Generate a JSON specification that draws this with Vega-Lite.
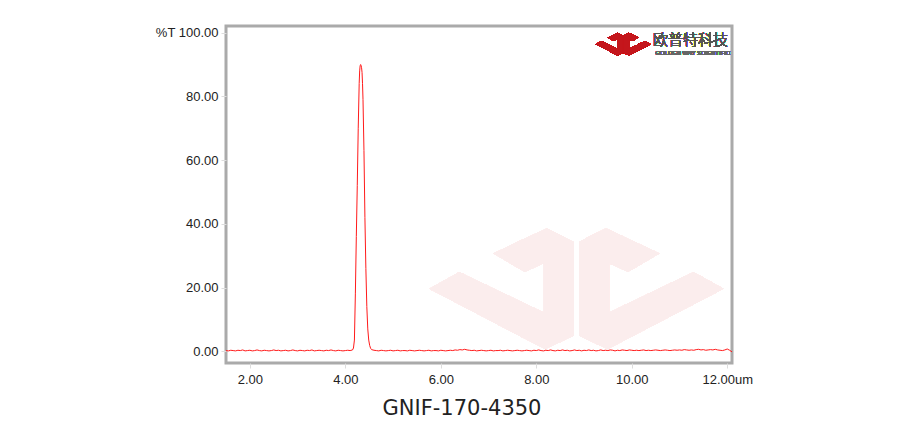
{
  "$schema": "https://vega.github.io/schema/vega-lite/v6.json",
  "autosize": {"type": "none"},
  "width": 506,
  "height": 337,
  "padding": {"left": 226, "top": 26, "right": 192, "bottom": 77},
  "background": "white",
  "config": {
    "view": {"stroke": "#aaaaaa", "strokeWidth": 3},
    "font": "Liberation Sans",
    "axis": {
      "domain": false,
      "gridColor": "#e6e6e6",
      "gridWidth": 1.5,
      "tickColor": "#dddddd",
      "tickSize": 5,
      "labelFont": "Liberation Sans",
      "labelFontSize": 13,
      "labelColor": "#222222",
      "title": null
    }
  },
  "title": {
    "text": "GNIF-170-4350",
    "orient": "bottom",
    "anchor": "middle",
    "dx": -17,
    "offset": 12,
    "font": "DejaVu Sans",
    "fontSize": 21,
    "fontWeight": "normal",
    "color": "#222222"
  },
  "data": {
    "values": [
      {"w":1.50,"t":0.2},{"w":1.55,"t":0.1},{"w":1.60,"t":0.3},{"w":1.65,"t":0.2},{"w":1.70,"t":0.1},{"w":1.75,"t":0.3},{"w":1.80,"t":0.2},{"w":1.85,"t":0.4},{"w":1.90,"t":0.1},{"w":1.95,"t":0.2},
      {"w":2.00,"t":0.3},{"w":2.05,"t":0.1},{"w":2.10,"t":0.2},{"w":2.15,"t":0.4},{"w":2.20,"t":0.2},{"w":2.25,"t":0.1},{"w":2.30,"t":0.3},{"w":2.35,"t":0.2},{"w":2.40,"t":0.1},{"w":2.45,"t":0.2},
      {"w":2.50,"t":0.4},{"w":2.55,"t":0.2},{"w":2.60,"t":0.3},{"w":2.65,"t":0.1},{"w":2.70,"t":0.2},{"w":2.75,"t":0.3},{"w":2.80,"t":0.1},{"w":2.85,"t":0.2},{"w":2.90,"t":0.4},{"w":2.95,"t":0.2},
      {"w":3.00,"t":0.1},{"w":3.05,"t":0.3},{"w":3.10,"t":0.2},{"w":3.15,"t":0.1},{"w":3.20,"t":0.3},{"w":3.25,"t":0.2},{"w":3.30,"t":0.4},{"w":3.35,"t":0.1},{"w":3.40,"t":0.2},{"w":3.45,"t":0.3},
      {"w":3.50,"t":0.2},{"w":3.55,"t":0.1},{"w":3.60,"t":0.3},{"w":3.65,"t":0.2},{"w":3.70,"t":0.4},{"w":3.75,"t":0.2},{"w":3.80,"t":0.1},{"w":3.85,"t":0.3},{"w":3.90,"t":0.2},{"w":3.95,"t":0.1},
      {"w":4.00,"t":0.2},{"w":4.05,"t":0.3},{"w":4.10,"t":0.2},{"w":4.15,"t":0.4},
      {"w":4.17,"t":1.0},{"w":4.19,"t":3.5},{"w":4.21,"t":18},{"w":4.23,"t":36},{"w":4.25,"t":52},{"w":4.27,"t":70},{"w":4.29,"t":84},{"w":4.30,"t":88},{"w":4.31,"t":89.6},{"w":4.32,"t":90},
      {"w":4.33,"t":89.7},{"w":4.34,"t":89},{"w":4.35,"t":87.5},{"w":4.36,"t":84},{"w":4.37,"t":79},{"w":4.39,"t":63},{"w":4.41,"t":42},{"w":4.43,"t":26},{"w":4.45,"t":14},{"w":4.47,"t":7},
      {"w":4.49,"t":3.5},{"w":4.51,"t":1.8},{"w":4.53,"t":0.9},{"w":4.55,"t":0.5},{"w":4.60,"t":0.3},
      {"w":4.65,"t":0.2},{"w":4.70,"t":0.1},{"w":4.75,"t":0.3},{"w":4.80,"t":0.2},{"w":4.85,"t":0.1},{"w":4.90,"t":0.2},{"w":4.95,"t":0.3},
      {"w":5.00,"t":0.1},{"w":5.05,"t":0.2},{"w":5.10,"t":0.3},{"w":5.15,"t":0.1},{"w":5.20,"t":0.2},{"w":5.25,"t":0.2},{"w":5.30,"t":0.1},{"w":5.35,"t":0.3},{"w":5.40,"t":0.2},{"w":5.45,"t":0.1},
      {"w":5.50,"t":0.2},{"w":5.55,"t":0.3},{"w":5.60,"t":0.2},{"w":5.65,"t":0.1},{"w":5.70,"t":0.2},{"w":5.75,"t":0.3},{"w":5.80,"t":0.1},{"w":5.85,"t":0.2},{"w":5.90,"t":0.2},{"w":5.95,"t":0.1},
      {"w":6.00,"t":0.3},{"w":6.05,"t":0.2},{"w":6.10,"t":0.1},{"w":6.15,"t":0.2},{"w":6.20,"t":0.3},{"w":6.25,"t":0.2},{"w":6.30,"t":0.4},{"w":6.35,"t":0.3},{"w":6.40,"t":0.5},{"w":6.45,"t":0.4},
      {"w":6.50,"t":0.6},{"w":6.55,"t":0.4},{"w":6.60,"t":0.3},{"w":6.65,"t":0.2},{"w":6.70,"t":0.3},{"w":6.75,"t":0.1},{"w":6.80,"t":0.2},{"w":6.85,"t":0.3},{"w":6.90,"t":0.2},{"w":6.95,"t":0.1},
      {"w":7.00,"t":0.2},{"w":7.05,"t":0.3},{"w":7.10,"t":0.1},{"w":7.15,"t":0.2},{"w":7.20,"t":0.2},{"w":7.25,"t":0.3},{"w":7.30,"t":0.1},{"w":7.35,"t":0.2},{"w":7.40,"t":0.3},{"w":7.45,"t":0.2},
      {"w":7.50,"t":0.1},{"w":7.55,"t":0.2},{"w":7.60,"t":0.3},{"w":7.65,"t":0.2},{"w":7.70,"t":0.1},{"w":7.75,"t":0.2},{"w":7.80,"t":0.3},{"w":7.85,"t":0.2},{"w":7.90,"t":0.1},{"w":7.95,"t":0.3},
      {"w":8.00,"t":0.2},{"w":8.05,"t":0.4},{"w":8.10,"t":0.2},{"w":8.15,"t":0.1},{"w":8.20,"t":0.3},{"w":8.25,"t":0.2},{"w":8.30,"t":0.4},{"w":8.35,"t":0.2},{"w":8.40,"t":0.1},{"w":8.45,"t":0.3},
      {"w":8.50,"t":0.2},{"w":8.55,"t":0.4},{"w":8.60,"t":0.2},{"w":8.65,"t":0.3},{"w":8.70,"t":0.1},{"w":8.75,"t":0.2},{"w":8.80,"t":0.4},{"w":8.85,"t":0.2},{"w":8.90,"t":0.3},{"w":8.95,"t":0.1},
      {"w":9.00,"t":0.3},{"w":9.05,"t":0.2},{"w":9.10,"t":0.4},{"w":9.15,"t":0.2},{"w":9.20,"t":0.3},{"w":9.25,"t":0.1},{"w":9.30,"t":0.2},{"w":9.35,"t":0.4},{"w":9.40,"t":0.2},{"w":9.45,"t":0.3},
      {"w":9.50,"t":0.2},{"w":9.55,"t":0.4},{"w":9.60,"t":0.3},{"w":9.65,"t":0.1},{"w":9.70,"t":0.3},{"w":9.75,"t":0.2},{"w":9.80,"t":0.4},{"w":9.85,"t":0.3},{"w":9.90,"t":0.2},{"w":9.95,"t":0.4},
      {"w":10.00,"t":0.3},{"w":10.05,"t":0.2},{"w":10.10,"t":0.3},{"w":10.15,"t":0.2},{"w":10.20,"t":0.3},{"w":10.25,"t":0.4},{"w":10.30,"t":0.2},{"w":10.35,"t":0.3},{"w":10.40,"t":0.2},{"w":10.45,"t":0.3},
      {"w":10.50,"t":0.4},{"w":10.55,"t":0.3},{"w":10.60,"t":0.2},{"w":10.65,"t":0.3},{"w":10.70,"t":0.4},{"w":10.75,"t":0.3},{"w":10.80,"t":0.2},{"w":10.85,"t":0.3},{"w":10.90,"t":0.4},{"w":10.95,"t":0.3},
      {"w":11.00,"t":0.4},{"w":11.05,"t":0.3},{"w":11.10,"t":0.5},{"w":11.15,"t":0.4},{"w":11.20,"t":0.3},{"w":11.25,"t":0.4},{"w":11.30,"t":0.3},{"w":11.35,"t":0.5},{"w":11.40,"t":0.6},{"w":11.45,"t":0.4},
      {"w":11.50,"t":0.5},{"w":11.55,"t":0.3},{"w":11.60,"t":0.4},{"w":11.65,"t":0.5},{"w":11.70,"t":0.4},{"w":11.75,"t":0.6},{"w":11.80,"t":0.4},{"w":11.85,"t":0.3},{"w":11.90,"t":0.2},{"w":11.95,"t":0.4},
      {"w":12.00,"t":0.7},{"w":12.05,"t":0.3},{"w":12.10,"t":-0.2}
    ]
  },
  "layer": [
    {
      "mark": {
        "type": "point",
        "shape": "M-0.995,0L-0.791,-0.114L-0.223,0.159L-0.223,-0.17L-0.348,-0.114L-0.564,-0.239L-0.2,-0.409L-0.018,-0.318L-0.018,0.318L-0.211,0.409ZM0.995,0L0.791,-0.114L0.223,0.159L0.223,-0.17L0.348,-0.114L0.564,-0.239L0.2,-0.409L0.018,-0.318L0.018,0.318L0.211,0.409Z",
        "size": 87616,
        "filled": true,
        "color": "#fbeded",
        "opacity": 1,
        "strokeWidth": 0
      },
      "encoding": {
        "x": {"datum": 8.84, "type": "quantitative"},
        "y": {"datum": 19.6, "type": "quantitative"}
      }
    },
    {
      "mark": {"type": "line", "color": "#ff1a1a", "strokeWidth": 1, "clip": true},
      "encoding": {
        "x": {
          "field": "w",
          "type": "quantitative",
          "scale": {"domain": [1.5, 12.1], "nice": false, "zero": false},
          "axis": {
            "values": [2, 4, 6, 8, 10, 12],
            "labelExpr": "datum.value == 12 ? '12.00um' : format(datum.value, '.2f')",
            "labelPadding": 5,
            "labelFlush": false,
            "labelOverlap": false
          }
        },
        "y": {
          "field": "t",
          "type": "quantitative",
          "scale": {"domain": [-3.7, 102.1], "nice": false, "zero": false},
          "axis": {
            "values": [0, 20, 40, 60, 80, 100],
            "labelExpr": "datum.value == 100 ? '%T 100.00' : format(datum.value, '.2f')",
            "labelPadding": 3,
            "labelFlush": false,
            "labelOverlap": false
          }
        }
      }
    },
    {
      "mark": {
        "type": "point",
        "shape": "M-0.995,0L-0.791,-0.114L-0.223,0.159L-0.223,-0.17L-0.348,-0.114L-0.564,-0.239L-0.2,-0.409L-0.018,-0.318L-0.018,0.318L-0.211,0.409ZM0.995,0L0.791,-0.114L0.223,0.159L0.223,-0.17L0.348,-0.114L0.564,-0.239L0.2,-0.409L0.018,-0.318L0.018,0.318L0.211,0.409Z",
        "size": 3047,
        "filled": true,
        "color": "#c4161c",
        "opacity": 1,
        "strokeWidth": 0
      },
      "encoding": {
        "x": {"datum": 9.82, "type": "quantitative"},
        "y": {"datum": 96.4, "type": "quantitative"}
      }
    },
    {
      "mark": {
        "type": "text",
        "text": "欧普特科技",
        "font": "Noto Sans CJK SC",
        "fontSize": 15,
        "fontWeight": 300,
        "color": "#555555",
        "align": "center",
        "baseline": "middle"
      },
      "encoding": {
        "x": {"datum": 11.23, "type": "quantitative"},
        "y": {"datum": 97.8, "type": "quantitative"}
      }
    },
    {
      "mark": {
        "type": "text",
        "text": "GOLDEN WAY SCIENTIFIC",
        "font": "Liberation Sans",
        "fontSize": 6,
        "color": "#666666",
        "align": "center",
        "baseline": "middle"
      },
      "encoding": {
        "x": {"datum": 11.28, "type": "quantitative"},
        "y": {"datum": 93.7, "type": "quantitative"}
      }
    }
  ]
}
